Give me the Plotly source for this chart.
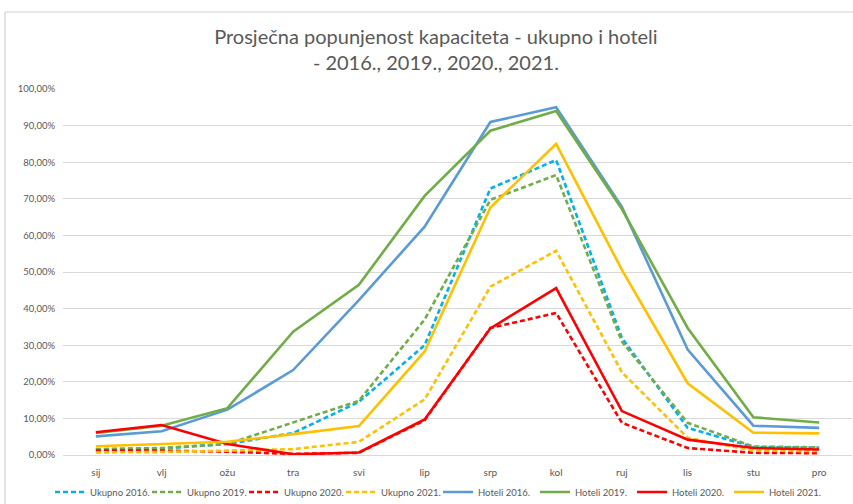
import plotly.graph_objects as go

months = ["sij", "vlj", "ožu", "tra", "svi", "lip", "srp", "kol", "ruj", "lis", "stu", "pro"]

ukupno_2016 = [1.5, 1.8, 3.0, 6.0, 14.5, 30.0, 72.8, 80.6, 32.0, 7.4, 2.2, 2.0]
ukupno_2019 = [1.6, 1.9, 3.0, 9.0, 14.8, 37.0, 69.7, 76.5, 31.0, 8.8, 2.3, 2.1]
ukupno_2020 = [1.2, 1.2, 0.9, 0.3, 0.6, 9.5, 34.7, 38.8, 8.8, 1.9, 0.6, 0.5]
ukupno_2021 = [0.7, 0.8, 1.2, 1.6, 3.6, 15.2, 46.0, 55.8, 22.6, 4.7, 1.2, 1.1]
hoteli_2016 = [5.1, 6.5, 12.4, 23.2, 42.3, 62.4, 91.0, 95.0, 67.8, 28.8, 8.0, 7.4]
hoteli_2019 = [6.0, 8.0, 12.8, 33.7, 46.5, 70.8, 88.6, 94.0, 67.2, 34.7, 10.3, 8.9]
hoteli_2020 = [6.2, 8.2, 3.0, 0.2, 0.7, 9.7, 34.6, 45.6, 12.0, 4.2, 1.9, 1.5]
hoteli_2021 = [2.4, 2.9, 3.6, 5.7, 7.9, 28.3, 67.6, 85.0, 50.6, 19.6, 6.1, 5.9]

series = [
    ("Ukupno 2016.", ukupno_2016, "#00B0F0", "5px,3px"),
    ("Ukupno 2019.", ukupno_2019, "#70AD47", "5px,3px"),
    ("Ukupno 2020.", ukupno_2020, "#FF0000", "5px,3px"),
    ("Ukupno 2021.", ukupno_2021, "#FFC000", "5px,3px"),
    ("Hoteli 2016.", hoteli_2016, "#5B9BD5", "solid"),
    ("Hoteli 2019.", hoteli_2019, "#70AD47", "solid"),
    ("Hoteli 2020.", hoteli_2020, "#FF0000", "solid"),
    ("Hoteli 2021.", hoteli_2021, "#FFC000", "solid"),
]

fig = go.Figure()
for name, vals, color, dash in series:
    fig.add_trace(go.Scatter(
        x=months, y=[v / 100 for v in vals], name=name, mode="lines",
        line=dict(color=color, width=2.6, dash=dash),
    ))

W, H = 853, 504
L, R, T, B = 63, 1, 89, 49
pw, ph = W - L - R, H - T - B

def px_x(x):
    return (x - L) / pw

def px_y(y):
    return (H - B - y) / ph

fig.update_layout(
    width=W, height=H,
    separators=",.",
    margin=dict(l=L, r=R, t=T, b=B, autoexpand=False),
    paper_bgcolor="white", plot_bgcolor="white",
    font=dict(family="Lato, Open Sans, sans-serif", color="#595959"),
    title=dict(
        text="Prosječna popunjenost kapaciteta - ukupno i hoteli<br>- 2016., 2019., 2020., 2021.",
        x=0.511, xanchor="center", y=1 - 44 / H, yanchor="middle",
        font=dict(size=20, color="#595959", family="Lato, sans-serif"),
    ),
    legend=dict(
        orientation="h", xref="container", x=0.5135, xanchor="center",
        yref="container", y=(H - 492) / H, yanchor="middle",
        font=dict(size=9.5, color="#595959"), itemwidth=30, tracegroupgap=0,
        entrywidth=52, entrywidthmode="pixels",
        bgcolor="rgba(0,0,0,0)",
    ),
    xaxis=dict(
        showgrid=False, showline=False, zeroline=False,
        ticks="outside", ticklen=8, tickcolor="rgba(0,0,0,0)",
        tickfont=dict(size=10, color="#595959"),
        range=[-0.5, 11.5],
    ),
    yaxis=dict(
        range=[0, 1], tickvals=[i / 10 for i in range(11)], tickformat=".2%",
        showgrid=True, gridcolor="#D9D9D9", gridwidth=1,
        zeroline=True, zerolinecolor="#D9D9D9", zerolinewidth=1,
        showline=False, tickfont=dict(size=9.5, color="#595959"),
        ticks="outside", ticklen=5, tickcolor="rgba(0,0,0,0)",
    ),
    shapes=[
        dict(type="line", xref="paper", yref="paper", x0=px_x(5), x1=px_x(853),
             y0=px_y(12), y1=px_y(12), line=dict(color="#D0D0D0", width=1.2)),
        dict(type="line", xref="paper", yref="paper", x0=px_x(5), x1=px_x(5),
             y0=px_y(12), y1=px_y(504), line=dict(color="#D0D0D0", width=1.2)),
    ],
)

fig.write_html("out.html", config={"displayModeBar": False},
               post_script="document.body.style.margin='0';")
